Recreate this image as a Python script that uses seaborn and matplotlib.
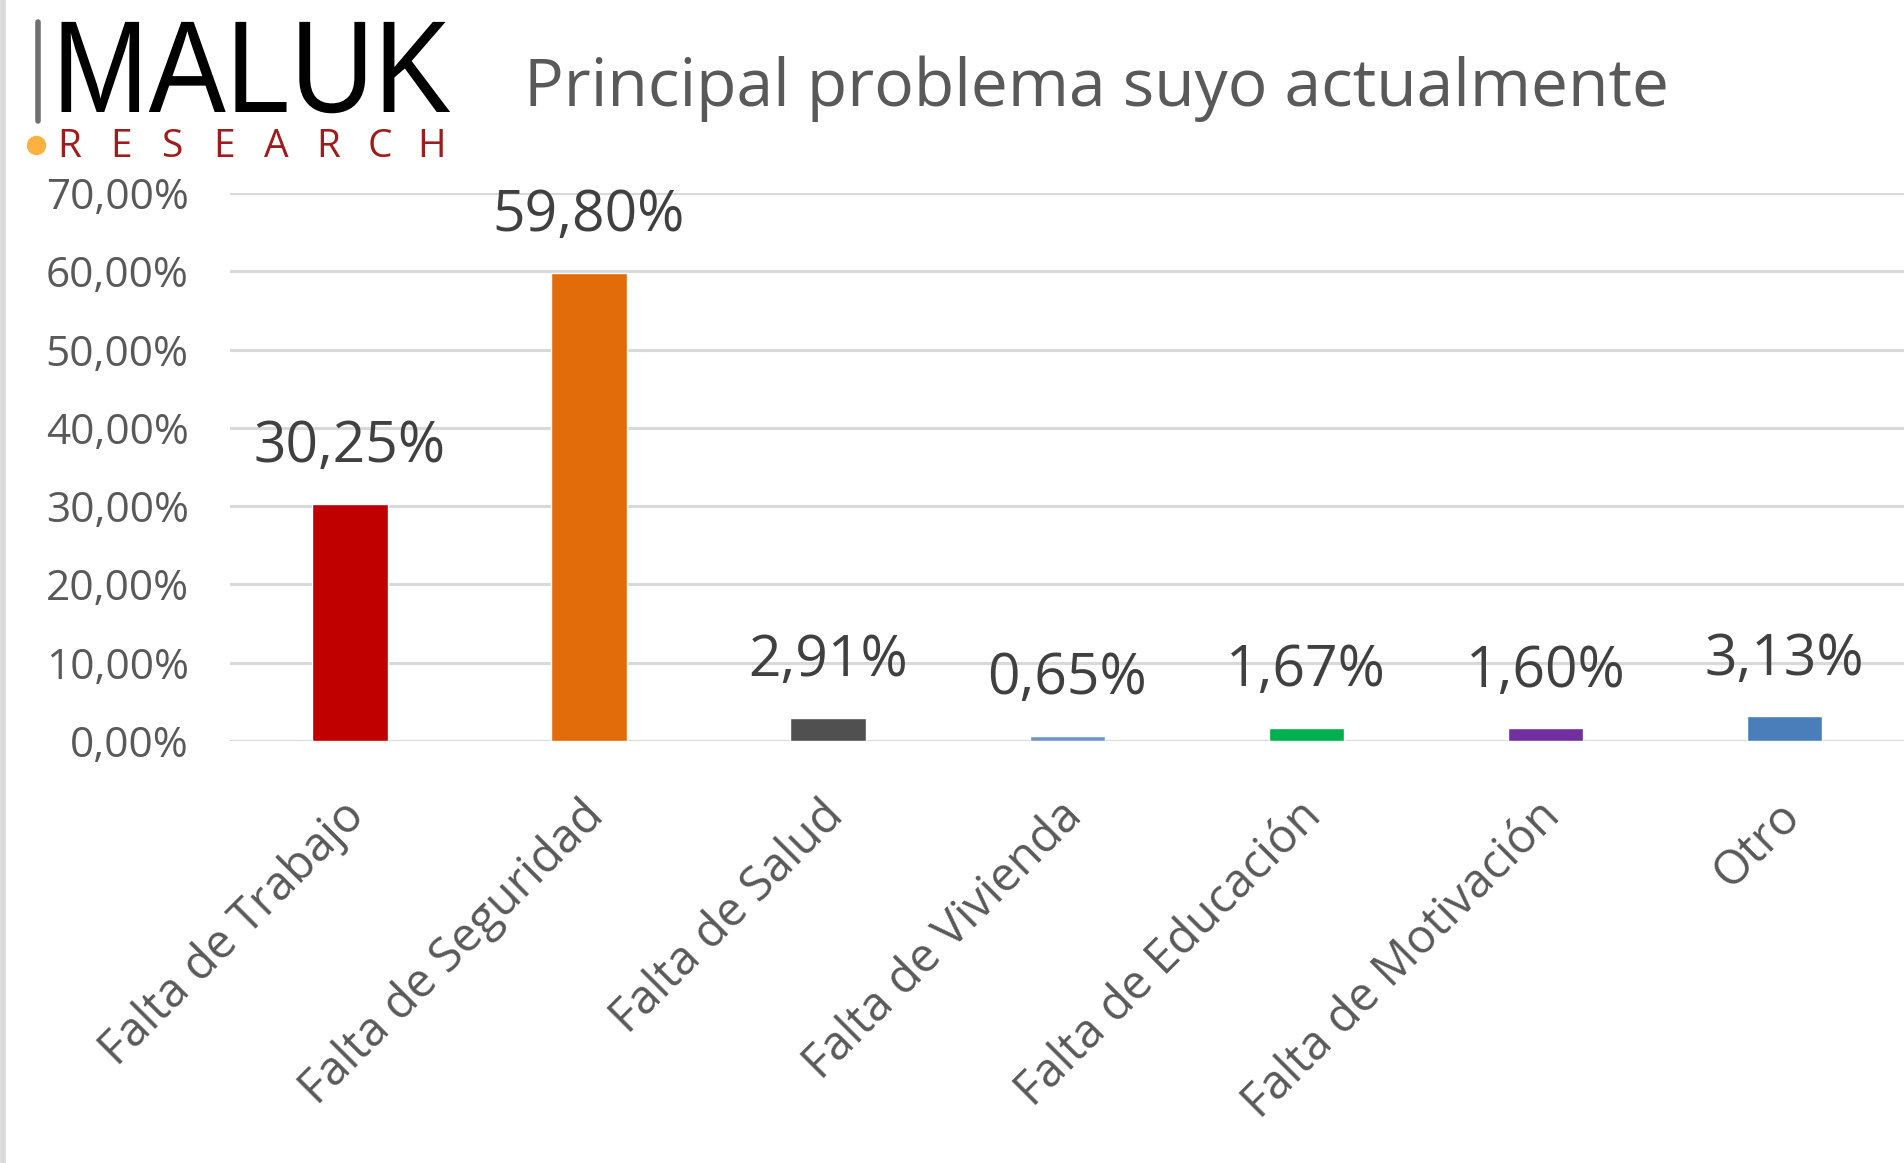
import matplotlib
matplotlib.use("Agg")
import matplotlib.pyplot as plt
from matplotlib.lines import Line2D
from matplotlib.patches import PathPatch
from matplotlib.textpath import TextPath
from matplotlib.font_manager import FontProperties
from matplotlib.transforms import Affine2D, ScaledTranslation
import seaborn as sns
import pandas as pd

# data
categories = ["Falta de Trabajo", "Falta de Seguridad", "Falta de Salud",
              "Falta de Vivienda", "Falta de Educación", "Falta de Motivación", "Otro"]
percents = [30.25, 59.80, 2.91, 0.65, 1.67, 1.60, 3.13]
bar_colors = ["#C00000", "#E36C0A", "#505050", "#6F95CC", "#00B050", "#7030A0", "#4A7EBB"]
y_ticks = [0, 10, 20, 30, 40, 50, 60, 70]


def pct(v):
    return f"{v:.2f}%".replace(".", ",")


sns.set_theme(style="white")
plt.rcParams["font.family"] = ["Open Sans", "DejaVu Sans"]

df = pd.DataFrame({"cat": categories, "pct": percents})

W, H = 1904, 1163
fig = plt.figure(figsize=(W / 100, H / 100), dpi=100)
ax = fig.add_axes([0.121, 0.363, 0.879, 0.471])

sns.barplot(data=df, x="cat", y="pct", hue="cat", palette=bar_colors,
            width=0.315, legend=False, ax=ax, saturation=1)

ax.set_xlim(-0.5, len(categories) - 0.5)
ax.set_ylim(0, 70)
ax.set_yticks(y_ticks)
ax.set_yticklabels([pct(t) for t in y_ticks], fontsize=30.5, color="#595959")
ax.yaxis.grid(True, color="#D9D9D9", linewidth=2.2)
ax.set_axisbelow(True)
for s in ax.spines.values():
    s.set_visible(False)
ax.tick_params(axis="y", length=0, pad=30)
ax.tick_params(axis="x", length=0, pad=37)
ax.set_xlabel("")
ax.set_ylabel("")
ax.set_xticks(range(len(categories)))
ax.set_xticklabels(categories, rotation=45, ha="right", rotation_mode="anchor",
                   fontsize=34, color="#595959")
# nudge rotated labels slightly left
shift = ScaledTranslation(-0.09, 0, fig.dpi_scale_trans)
for lbl in ax.get_xticklabels():
    lbl.set_transform(lbl.get_transform() + shift)

for cont in ax.containers:
    vals = cont.datavalues
    ax.bar_label(cont, labels=[pct(v) for v in vals], padding=20,
                 fontsize=41, color="#404040")

# title
fig.text(0.275, 0.924, "Principal problema suyo actualmente", fontsize=47.5,
         color="#595959", va="center", ha="left")

# logo: gray bar, squeezed "MALUK", spaced "RESEARCH", orange dot
fig.add_artist(Line2D([0.0198, 0.0198], [0.896, 0.981], color="#707070", lw=4))
tp = TextPath((0, 0), "MALUK", size=131, prop=FontProperties(family="Liberation Sans"))
logo = PathPatch(tp, color="black", lw=0,
                 transform=Affine2D().scale(0.885, 1.0).translate(52, H - 112))
fig.add_artist(logo)
for i, ch in enumerate("RESEARCH"):
    fig.text(0.0362 + i * 0.0272, 0.874, ch, fontsize=28, color="#A01C1C",
             va="center", ha="center")
fig.add_artist(Line2D([0.019], [0.875], marker="o", ms=14, color="#FDB240", mew=0))

# left border line
fig.add_artist(Line2D([0.0018, 0.0018], [0, 1], color="#D9D9D9", lw=4))

fig.savefig("out.png", dpi=100)
